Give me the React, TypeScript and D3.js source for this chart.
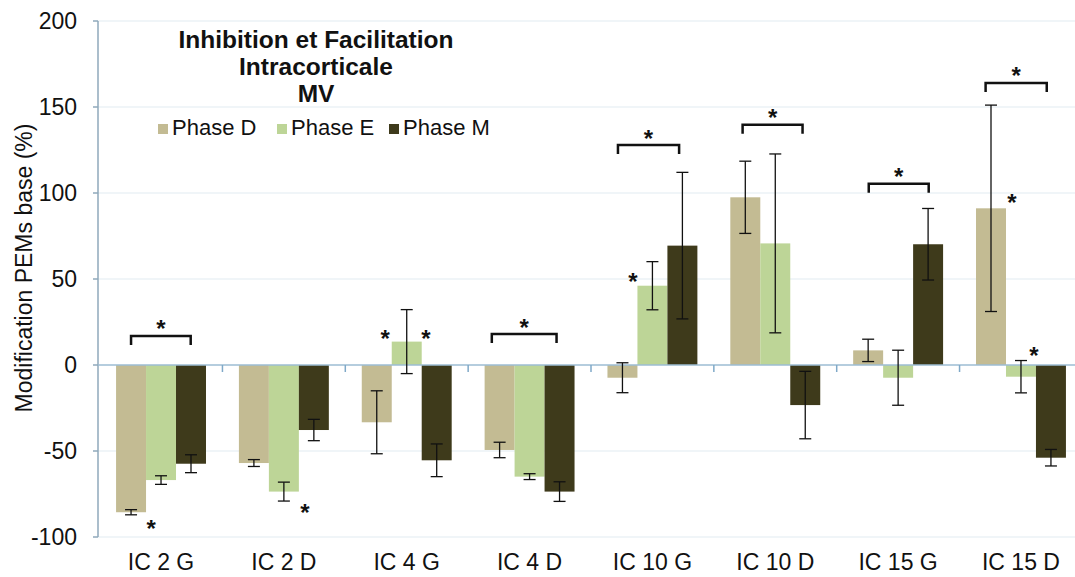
import React from "react";
import * as d3 from "d3";

const categories = ["IC 2 G", "IC 2 D", "IC 4 G", "IC 4 D", "IC 10 G", "IC 10 D", "IC 15 G", "IC 15 D"];
const seriesNames = ["Phase D", "Phase E", "Phase M"];
const phaseD = [-85.6, -57, -33.3, -49.4, -7.4, 97.5, 8.5, 91.1];
const phaseDErr = [1.5, 2, 18.3, 4.5, 8.7, 21, 6.5, 60];
const phaseE = [-66.9, -73.6, 13.6, -64.9, 46.1, 70.7, -7.4, -6.8];
const phaseEErr = [2.5, 5.5, 18.6, 1.7, 14, 52, 16, 9.4];
const phaseM = [-57.4, -37.8, -55.4, -73.6, 69.4, -23.3, 70.2, -53.9];
const phaseMErr = [5.2, 6.2, 9.5, 5.7, 42.6, 19.6, 20.8, 4.8];
const yTicks = [-100, -50, 0, 50, 100, 150, 200];
// brackets: category index, value, left / right offsets in bar widths
const brackets: [number, number, number, number][] = [
  [0, 16.9, -1.0, 0.99],
  [3, 18, -1.26, 0.9],
  [4, 127.9, -1.15, 0.89],
  [5, 139.7, -1.09, 0.91],
  [6, 105.4, -0.98, 1.02],
  [7, 164, -1.18, 0.86],
];
// single stars: category index, offset in bar widths, value
const stars: [number, number, number][] = [
  [0, -0.33, -91.9],
  [1, 0.7, -82.6],
  [2, -0.72, 18.6],
  [2, 0.64, 18.6],
  [4, -0.65, 51.7],
  [7, -0.3, 97.3],
  [7, 0.43, 8.7],
];

const colors = ["#c3bb93", "#bdd597", "#3e3a1b"];
const FONT = "'Liberation Sans', Arial, sans-serif";

export default function App() {
  const W = 1075, H = 577;
  const x = d3.scaleBand<string>().domain(categories).range([99.6, 1082.4]).padding(0);
  const y = d3.scaleLinear().domain([-100, 200]).range([537, 21]);
  const bw = x.bandwidth() * 0.244;
  const series = [phaseD, phaseE, phaseM];
  const errs = [phaseDErr, phaseEErr, phaseMErr];
  const axisX = 98;
  const cx = (i: number) => (x(categories[i]) as number) + x.bandwidth() / 2;

  return (
    <svg width={W} height={H} style={{ position: "absolute", left: 0, top: 0, background: "#fff" }} fontFamily={FONT}>
      <rect x={0} y={0} width={W} height={H} fill="#fff" />
      {yTicks.filter((t) => t !== 0).map((t) => (
        <line key={t} x1={axisX} x2={W} y1={y(t)} y2={y(t)} stroke="#e2ebf1" strokeWidth={1.2} />
      ))}
      <line x1={axisX} x2={axisX} y1={y(200)} y2={y(-100)} stroke="#8fa9bb" strokeWidth={1.5} />
      {yTicks.map((t) => (
        <g key={t}>
          <line x1={axisX - 5} x2={axisX} y1={y(t)} y2={y(t)} stroke="#8fa9bb" strokeWidth={1.5} />
          <text x={77} y={y(t) + 8} textAnchor="end" fontSize={23} fill="#111">{t}</text>
        </g>
      ))}
      {series.map((vals, s) =>
        vals.map((v, i) => {
          const x0 = cx(i) + (s - 1.5) * bw;
          return (
            <rect key={`${s}-${i}`} x={x0} width={bw} y={Math.min(y(v), y(0))} height={Math.abs(y(v) - y(0))} fill={colors[s]} />
          );
        })
      )}
      <line x1={axisX} x2={W} y1={y(0)} y2={y(0)} stroke="#9cbdd3" strokeWidth={1.5} />
      {categories.slice(1).map((c) => (
        <line key={c} x1={x(c) as number} x2={x(c) as number} y1={y(0)} y2={y(0) + 7} stroke="#7fa9c8" strokeWidth={1.5} />
      ))}
      {series.map((vals, s) =>
        vals.map((v, i) => {
          const xc = cx(i) + (s - 1) * bw;
          const e = errs[s][i];
          return (
            <g key={`e${s}-${i}`} stroke="#111" strokeWidth={1.3}>
              <line x1={xc} x2={xc} y1={y(v + e)} y2={y(v - e)} />
              <line x1={xc - 6} x2={xc + 6} y1={y(v + e)} y2={y(v + e)} />
              <line x1={xc - 6} x2={xc + 6} y1={y(v - e)} y2={y(v - e)} />
            </g>
          );
        })
      )}
      {brackets.map(([i, v, a, b], k) => {
        const x0 = cx(i) + a * bw;
        const x1 = cx(i) + b * bw;
        const yy = y(v);
        return (
          <g key={`b${k}`}>
            <path d={`M${x0},${yy + 9}V${yy}H${x1}V${yy + 9}`} fill="none" stroke="#111" strokeWidth={2.5} />
            <text x={(x0 + x1) / 2} y={yy - 12 + 13.5} textAnchor="middle" fontSize={24} fontWeight="bold" fill="#111">*</text>
          </g>
        );
      })}
      {stars.map(([i, o, v], k) => (
        <text key={`s${k}`} x={cx(i) + o * bw} y={y(v) + 13.5} textAnchor="middle" fontSize={24} fontWeight="bold" fill="#111">*</text>
      ))}
      {categories.map((c, i) => (
        <text key={c} x={cx(i)} y={570} textAnchor="middle" fontSize={23} fill="#111">{c}</text>
      ))}
      <text transform="translate(32,268) rotate(-90)" textAnchor="middle" fontSize={23} fill="#111">Modification PEMs base (%)</text>
      <g fontWeight="bold" fontSize={24.5} textAnchor="middle" fill="#111">
        <text x={316} y={48}>Inhibition et Facilitation</text>
        <text x={316} y={75}>Intracorticale</text>
        <text x={316} y={102}>MV</text>
      </g>
      {seriesNames.map((n, s) => {
        const sx = [158, 277, 389][s];
        return (
          <g key={n}>
            <rect x={sx} y={124} width={10} height={10} fill={colors[s]} />
            <text x={sx + 14} y={135} fontSize={22} fill="#111">{n}</text>
          </g>
        );
      })}
    </svg>
  );
}
